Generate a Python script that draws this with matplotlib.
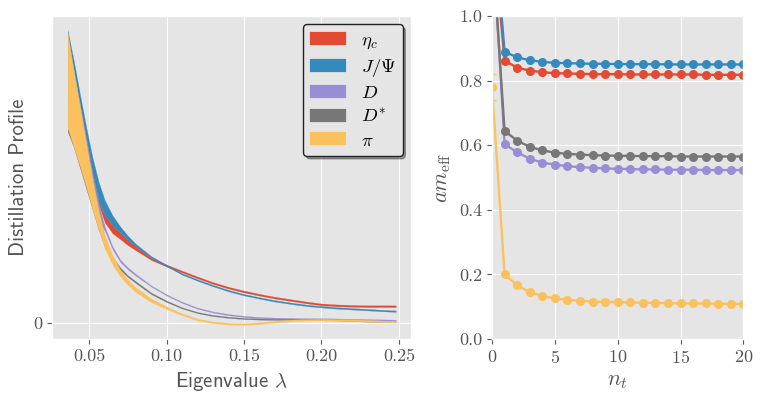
import matplotlib
matplotlib.use("Agg")
import matplotlib.pyplot as plt

plt.style.use("ggplot")
plt.rcParams["font.family"] = ["cmr10", "DejaVu Serif"]
plt.rcParams["mathtext.fontset"] = "cm"
plt.rcParams["axes.unicode_minus"] = False
plt.rcParams["axes.formatter.use_mathtext"] = True

# ---------------- data: distillation profiles (left) ----------------
lam = [0.036, 0.040, 0.044, 0.048, 0.052, 0.056, 0.060, 0.065, 0.070, 0.075,
       0.080, 0.090, 0.100, 0.110, 0.120, 0.130, 0.140, 0.150, 0.160, 0.170,
       0.180, 0.190, 0.200, 0.210, 0.220, 0.230, 0.240, 0.248]

etac_hi = [0.970, 0.860, 0.745, 0.630, 0.515, 0.416, 0.369, 0.334, 0.310, 0.283,
           0.262, 0.223, 0.200, 0.179, 0.159, 0.140, 0.124, 0.111, 0.100, 0.090,
           0.082, 0.074, 0.067, 0.064, 0.062, 0.061, 0.061, 0.061]
etac_lo = [0.960, 0.850, 0.735, 0.620, 0.500, 0.405, 0.344, 0.307, 0.287, 0.266,
           0.249, 0.216, 0.193, 0.173, 0.153, 0.134, 0.118, 0.105, 0.094, 0.084,
           0.076, 0.068, 0.061, 0.058, 0.056, 0.055, 0.055, 0.055]

jpsi_hi = [1.000, 0.896, 0.781, 0.670, 0.567, 0.483, 0.420, 0.368, 0.330, 0.298,
           0.271, 0.229, 0.199, 0.1705, 0.1495, 0.1305, 0.1135, 0.0995, 0.0885, 0.0785,
           0.0705, 0.0635, 0.0585, 0.0545, 0.0515, 0.0485, 0.0455, 0.0435]
jpsi_lo = [0.970, 0.860, 0.745, 0.630, 0.515, 0.416, 0.369, 0.334, 0.310, 0.283,
           0.262, 0.223, 0.194, 0.1655, 0.1445, 0.1255, 0.1085, 0.0945, 0.0835, 0.0735,
           0.0655, 0.0585, 0.0535, 0.0495, 0.0465, 0.0435, 0.0405, 0.0385]

d_hi = [0.990, 0.860, 0.745, 0.630, 0.515, 0.410, 0.330, 0.262, 0.217, 0.190,
        0.168, 0.129, 0.098, 0.073, 0.053, 0.040, 0.031, 0.025, 0.021, 0.019,
        0.018, 0.017, 0.017, 0.016, 0.015, 0.014, 0.013, 0.012]
d_lo = [0.700, 0.620, 0.550, 0.480, 0.410, 0.350, 0.315, 0.252, 0.209, 0.183,
        0.162, 0.125, 0.094, 0.069, 0.049, 0.036, 0.027, 0.021, 0.017, 0.015,
        0.014, 0.013, 0.013, 0.012, 0.011, 0.010, 0.009, 0.008]

dstar_hi = [0.980, 0.850, 0.730, 0.600, 0.480, 0.370, 0.290, 0.226, 0.190, 0.163,
            0.143, 0.104, 0.077, 0.054, 0.038, 0.028, 0.022, 0.018, 0.016, 0.015,
            0.015, 0.014, 0.014, 0.013, 0.011, 0.009, 0.008, 0.007]
dstar_lo = [0.655, 0.600, 0.530, 0.460, 0.390, 0.320, 0.260, 0.210, 0.182, 0.157,
            0.137, 0.099, 0.072, 0.050, 0.034, 0.024, 0.018, 0.014, 0.012, 0.011,
            0.011, 0.010, 0.010, 0.009, 0.007, 0.005, 0.004, 0.003]

pi_hi = [0.990, 0.860, 0.740, 0.615, 0.495, 0.385, 0.300, 0.232, 0.183, 0.148,
         0.122, 0.084, 0.057, 0.033, 0.015, 0.006, 0.001, 0.000, 0.003, 0.008,
         0.012, 0.014, 0.015, 0.014, 0.013, 0.011, 0.009, 0.008]
pi_lo = [0.666, 0.600, 0.535, 0.465, 0.390, 0.320, 0.255, 0.200, 0.160, 0.130,
         0.106, 0.072, 0.048, 0.027, 0.009, 0.000, -0.005, -0.006, -0.003, 0.002,
         0.006, 0.008, 0.009, 0.008, 0.007, 0.005, 0.003, 0.002]

# ---------------- data: effective masses (right) ----------------
nt = list(range(0, 21))
etac_m = [1.30, 0.862, 0.840, 0.831, 0.826, 0.823, 0.822, 0.821, 0.820, 0.820, 0.820,
          0.819, 0.819, 0.819, 0.819, 0.819, 0.819, 0.818, 0.818, 0.818, 0.818]
jpsi_m = [1.35, 0.889, 0.872, 0.863, 0.858, 0.855, 0.854, 0.853, 0.852, 0.852, 0.851,
          0.851, 0.851, 0.851, 0.850, 0.850, 0.850, 0.850, 0.850, 0.850, 0.850]
d_m = [1.28, 0.603, 0.578, 0.558, 0.546, 0.540, 0.535, 0.532, 0.530, 0.528, 0.527,
       0.526, 0.525, 0.525, 0.524, 0.524, 0.524, 0.523, 0.523, 0.523, 0.523]
dstar_m = [1.23, 0.644, 0.614, 0.595, 0.584, 0.577, 0.573, 0.571, 0.569, 0.568, 0.567,
           0.567, 0.566, 0.566, 0.566, 0.565, 0.565, 0.565, 0.565, 0.565, 0.565]
pi_m = [0.78, 0.201, 0.166, 0.145, 0.133, 0.126, 0.121, 0.118, 0.116, 0.115, 0.114,
        0.113, 0.112, 0.112, 0.111, 0.110, 0.110, 0.110, 0.109, 0.109, 0.108]
pi_err = [0.04] + [0.002] * 20

labels = [r"$\eta_c$", r"$J/\Psi$", r"$D$", r"$D^{*}$", r"$\pi$"]
colors = ["#E24A33", "#348ABD", "#988ED5", "#777777", "#FBC15E"]

bands = [(etac_lo, etac_hi), (jpsi_lo, jpsi_hi), (d_lo, d_hi),
         (dstar_lo, dstar_hi), (pi_lo, pi_hi)]
masses = [etac_m, jpsi_m, d_m, dstar_m, pi_m]

fig = plt.figure(figsize=(7.62, 3.99), dpi=100)
ax1 = fig.add_axes([0.0682, 0.1504, 0.4711, 0.8095])
ax2 = fig.add_axes([0.6457, 0.1504, 0.3298, 0.8095])

for (lo, hi), c, lab in zip(bands, colors, labels):
    ax1.fill_between(lam, lo, hi, color=c, label=lab, linewidth=0.15, edgecolor=c)

ax1.set_xlim(0.0259, 0.2578)
ax1.set_ylim(-0.054, 1.049)
ax1.set_xticks([0.05, 0.10, 0.15, 0.20, 0.25])
ax1.set_xticklabels(["0.05", "0.10", "0.15", "0.20", "0.25"])
ax1.set_yticks([0])
ax1.set_yticklabels(["0"])
ax1.tick_params(labelsize=13, colors="#555555")
ax1.set_xlabel(r"Eigenvalue $\lambda$", family=["cmss10", "DejaVu Sans"], fontsize=15, color="#555555")
ax1.set_ylabel("Distillation Profile", family=["cmss10", "DejaVu Sans"], fontsize=15, color="#555555")
leg = ax1.legend(loc="upper right", shadow=True, fancybox=True, framealpha=1,
                 fontsize=13.5, handlelength=1.9, handleheight=0.68,
                 labelspacing=0.3, borderpad=0.35, handletextpad=0.8,
                 borderaxespad=0.45)
leg.get_frame().set_edgecolor("#222222")
leg.get_frame().set_facecolor("#E5E5E5")
leg.get_frame().set_linewidth(1.0)

for m, c in zip(masses, colors):
    if m is pi_m:
        ax2.errorbar(nt, m, yerr=pi_err, color=c, marker="o", markersize=5.5,
                     linewidth=1.7, capsize=3, elinewidth=1.2)
    else:
        ax2.plot(nt, m, color=c, marker="o", markersize=5.5, linewidth=1.7)

ax2.set_xlim(0, 20)
ax2.set_ylim(0, 1.0)
ax2.set_xticks([0, 5, 10, 15, 20])
ax2.set_yticks([0.0, 0.2, 0.4, 0.6, 0.8, 1.0])
ax2.set_yticklabels(["0.0", "0.2", "0.4", "0.6", "0.8", "1.0"])
ax2.tick_params(labelsize=13, colors="#555555")
ax2.set_xlabel(r"$n_t$", fontsize=16, color="#555555")
ax2.set_ylabel(r"$am_{\mathrm{eff}}$", fontsize=16, color="#555555")

fig.savefig("out.png", dpi=100)
